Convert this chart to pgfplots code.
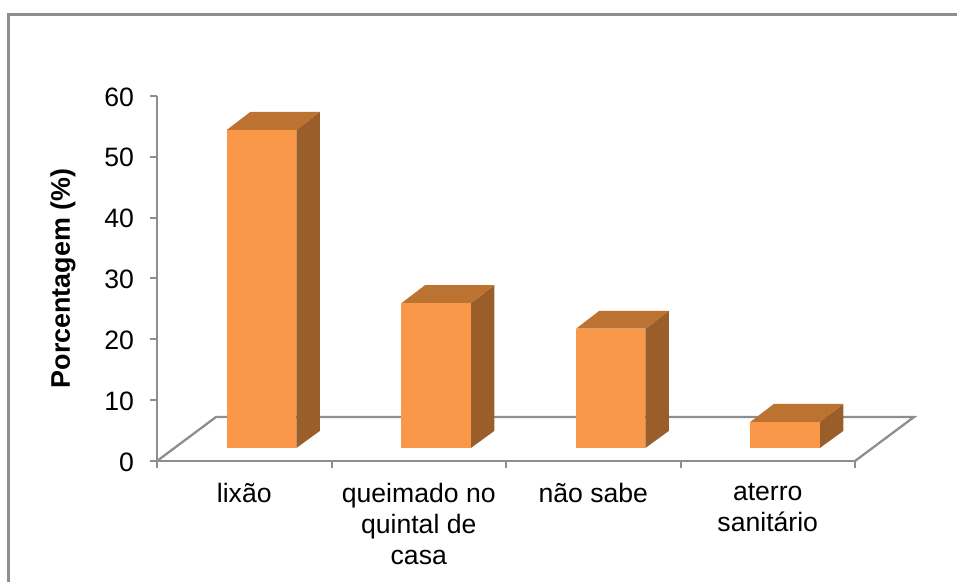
\documentclass[border=0pt]{standalone}
\usepackage{pgfplots}
\pgfplotsset{compat=1.18}
\usepackage{fontspec}
\setmainfont{Liberation Sans}
\definecolor{axisgrey}{HTML}{8E8E8E}
\definecolor{barfront}{HTML}{FA9748}
\definecolor{bartop}{HTML}{BC7231}
\definecolor{barside}{HTML}{9A5E2B}
\begin{document}
\begin{tikzpicture}[x=1bp,y=1bp]
\path[use as bounding box] (0,0) rectangle (957,582);
% outer chart frame
\draw[axisgrey,line width=2.6bp] (8.5,0) -- (8.5,567.5) -- (957,567.5);
\begin{axis}[
  at={(157bp,121bp)}, anchor=origin,
  scale only axis, width=698bp, height=365bp,
  xmin=0, xmax=4, ymin=0, ymax=60,
  clip=false,
  axis x line=bottom, axis y line=left,
  axis line style={axisgrey,line width=2.3bp,-},
  every tick/.style={axisgrey,line width=2bp},
  tick align=outside, major tick length=7.5bp,
  xtick={0,1,2,3,4}, xticklabels={},
  ytick={0,10,...,60},
  /pgf/number format/assume math mode=true,
  yticklabel style={font=\fontsize{26.7}{26.7}\selectfont, xshift=-12bp, yshift=-1bp},
  ylabel={\textbf{Porcentagem (\%)}},
  ylabel style={font=\fontsize{27}{27}\selectfont, at={(axis cs:0,30)}, anchor=south, yshift=78bp},
  extra description/.code={
    \foreach \xx/\txt in {
      0.5/lixão,
      1.5/{queimado no\\quintal de\\casa},
      2.5/não sabe,
      3.5/{aterro\\sanitário}}{
      \node[font=\fontsize{26.7}{31}\selectfont, align=center, anchor=north, inner sep=0pt]
        at (axis cs:\xx,-3.6) {\txt};
    }
  },
]
% floor of the chart, back edge and depth edges
\addplot[axisgrey,line width=2.3bp,mark=none] coordinates {(0,0) (0.338,7.23) (4.338,7.23) (4,0)};

% lixão, 52.3 %
\addplot[draw=none,fill=barside,mark=none] coordinates {(0.799,2.14) (0.933,4.94) (0.933,57.39) (0.799,54.44)} -- cycle;
\addplot[draw=none,fill=bartop,mark=none] coordinates {(0.401,54.44) (0.535,57.39) (0.933,57.39) (0.799,54.44)} -- cycle;
\addplot[draw=none,fill=barfront,mark=none] coordinates {(0.401,2.14) (0.799,2.14) (0.799,54.44) (0.401,54.44)} -- cycle;

% queimado no quintal de casa, 23.8 %
\addplot[draw=none,fill=barside,mark=none] coordinates {(1.799,2.14) (1.933,4.94) (1.933,28.89) (1.799,25.94)} -- cycle;
\addplot[draw=none,fill=bartop,mark=none] coordinates {(1.401,25.94) (1.535,28.89) (1.933,28.89) (1.799,25.94)} -- cycle;
\addplot[draw=none,fill=barfront,mark=none] coordinates {(1.401,2.14) (1.799,2.14) (1.799,25.94) (1.401,25.94)} -- cycle;

% não sabe, 19.6 %
\addplot[draw=none,fill=barside,mark=none] coordinates {(2.799,2.14) (2.933,4.94) (2.933,24.69) (2.799,21.74)} -- cycle;
\addplot[draw=none,fill=bartop,mark=none] coordinates {(2.401,21.74) (2.535,24.69) (2.933,24.69) (2.799,21.74)} -- cycle;
\addplot[draw=none,fill=barfront,mark=none] coordinates {(2.401,2.14) (2.799,2.14) (2.799,21.74) (2.401,21.74)} -- cycle;

% aterro sanitário, 4.3 %
\addplot[draw=none,fill=barside,mark=none] coordinates {(3.799,2.14) (3.933,4.94) (3.933,9.39) (3.799,6.44)} -- cycle;
\addplot[draw=none,fill=bartop,mark=none] coordinates {(3.401,6.44) (3.535,9.39) (3.933,9.39) (3.799,6.44)} -- cycle;
\addplot[draw=none,fill=barfront,mark=none] coordinates {(3.401,2.14) (3.799,2.14) (3.799,6.44) (3.401,6.44)} -- cycle;
\end{axis}
\end{tikzpicture}
\end{document}
